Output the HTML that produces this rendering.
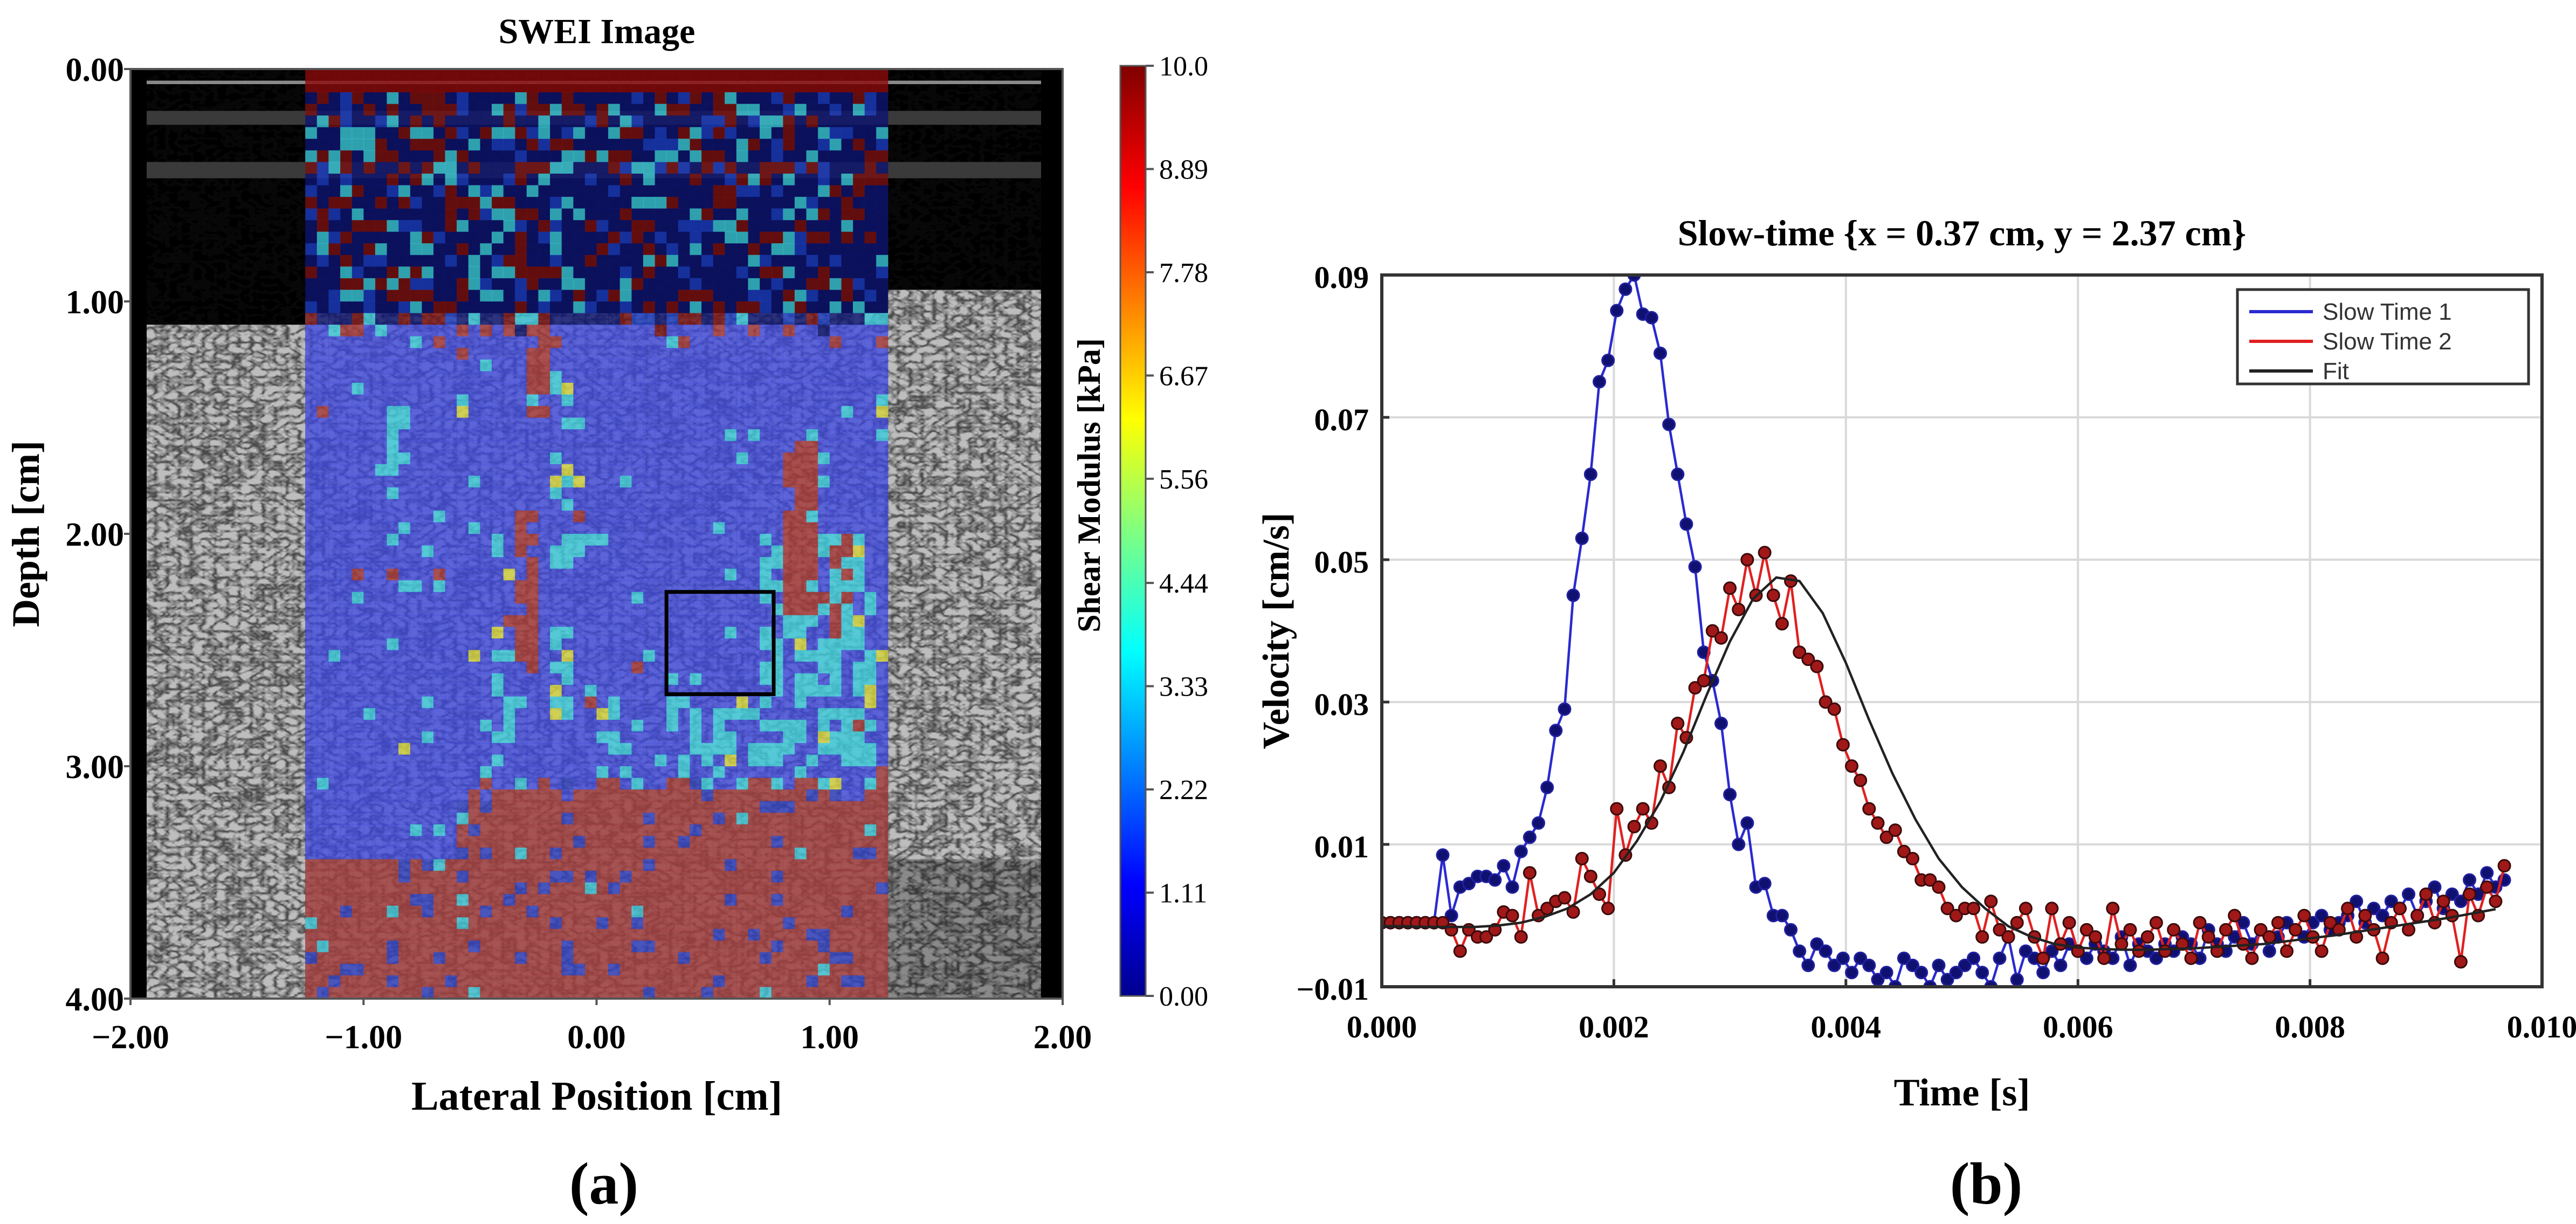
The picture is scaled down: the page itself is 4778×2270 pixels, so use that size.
<!DOCTYPE html>
<html><head><meta charset="utf-8">
<style>
html,body{margin:0;padding:0;background:#fff;}
svg{display:block;}
text{font-family:"Liberation Serif",serif;}
</style></head>
<body>
<svg id="fig" width="4778" height="2270" viewBox="0 0 4778 2270" xmlns="http://www.w3.org/2000/svg">
<defs>
<filter id="speckle" x="0" y="0" width="100%" height="100%">
<feTurbulence type="turbulence" baseFrequency="0.045 0.07" numOctaves="2" seed="7" result="t"/>
<feColorMatrix in="t" type="matrix" values="0 0 0 0 0  0 0 0 0 0  0 0 0 0 0  -2.2 -1.2 0 0 1.25" result="a"/>
<feFlood flood-color="#111"/>
<feComposite in2="a" operator="in"/>
</filter>
<linearGradient id="jet" x1="0" y1="1" x2="0" y2="0">
<stop offset="0" stop-color="#00008f"/>
<stop offset="0.12" stop-color="#0000ff"/>
<stop offset="0.37" stop-color="#00ffff"/>
<stop offset="0.5" stop-color="#80ff80"/>
<stop offset="0.62" stop-color="#ffff00"/>
<stop offset="0.87" stop-color="#ff0000"/>
<stop offset="1" stop-color="#800000"/>
</linearGradient>
<clipPath id="clipA"><rect x="242" y="128" width="1729" height="1724"/></clipPath>
<clipPath id="clipB"><rect x="2563" y="510" width="2152" height="1320"/></clipPath>
</defs>

<g id="panelA">
<text x="1107" y="80" font-size="66" font-weight="bold" text-anchor="middle">SWEI Image</text>
<g clip-path="url(#clipA)">
<rect x="242" y="128" width="1729" height="1724" fill="#000"/>
<g id="sideTex"></g>
<g id="cells"></g>
</g>
<rect id="roiBox" fill="none" stroke="#000" stroke-width="7"/>
<rect x="242" y="128" width="1729" height="1724" fill="none" stroke="#555" stroke-width="4"/>
<g id="axA"></g>
<text transform="translate(72,990) rotate(-90)" font-size="72" font-weight="bold" text-anchor="middle">Depth [cm]</text>
<text x="1107" y="2058" font-size="76" font-weight="bold" text-anchor="middle">Lateral Position [cm]</text>
<text x="1120" y="2232" font-size="110" font-weight="bold" text-anchor="middle">(a)</text>
<rect x="2078" y="122" width="47" height="1725" fill="url(#jet)" stroke="#555" stroke-width="3"/>
<g id="cbTicks"></g>
<text transform="translate(2040,900) rotate(-90)" font-size="60" font-weight="bold" text-anchor="middle">Shear Modulus [kPa]</text>
</g>

<g id="panelB">
<text x="3639" y="455" font-size="68" font-weight="bold" text-anchor="middle">Slow-time  {x = 0.37 cm, y = 2.37 cm}</text>
<g id="gridB"></g>
<g clip-path="url(#clipB)"><g id="seriesB"></g></g>
<rect x="2563" y="510" width="2152" height="1320" fill="none" stroke="#333" stroke-width="6"/>
<g id="axB"></g>
<text transform="translate(2390,1170) rotate(-90)" font-size="70" font-weight="bold" text-anchor="middle">Velocity  [cm/s]</text>
<text x="3639" y="2050" font-size="72" font-weight="bold" text-anchor="middle">Time  [s]</text>
<text x="3684" y="2232" font-size="110" font-weight="bold" text-anchor="middle">(b)</text>
<g>
<rect x="4150" y="537" width="540" height="175" fill="#fff" stroke="#333" stroke-width="5"/>
<line x1="4172" y1="578" x2="4290" y2="578" stroke="#2a2ad0" stroke-width="6"/>
<text x="4308" y="593" font-size="44" fill="#333" style="font-family:'Liberation Sans',sans-serif">Slow Time 1</text>
<line x1="4172" y1="633" x2="4290" y2="633" stroke="#e02020" stroke-width="6"/>
<text x="4308" y="648" font-size="44" fill="#333" style="font-family:'Liberation Sans',sans-serif">Slow Time 2</text>
<line x1="4172" y1="688" x2="4290" y2="688" stroke="#222" stroke-width="6"/>
<text x="4308" y="703" font-size="44" fill="#333" style="font-family:'Liberation Sans',sans-serif">Fit</text>
</g>
</g>
</svg>

<script>
const dt = 0.000075;
const blueVals = [-1,-1,-1,-1,-1,-1,-1,8.5,0,4,4.5,5.5,5.5,5,7,4,9,11,13,18,26,29,45,53,62,75,78,85,88,90,84.5,84,79,69,62,55,49,37,33,27,17,10,13,4,4.5,0,0,-2,-5,-7,-4,-5,
-7,-6,-8,-6,-7,-9,-8,-10,-6,-7,-8,-10,-7,-9,-8,-7,-6,-8,-10,
-6,-3,-9,-5,-6,-8,-5,-7,-4,-5,-6,-4,-5,-6,-3,-7,-4,-5,-6,-4,
-5,-3,-4,-6,-2,-4,-5,-3,-1,-4,-2,-5,-3,-1,-2,-3,-1,0,-2,-1,
0,2,-1,1,0,2,1,3,0,2,4,1,3,2,5,3,6,4,5];
const redVals = [-1,-1,-1,-1,-1,-1,-1,-1,-2,-5,-2,-3,-3,-2,0.5,0,-3,6,0,1,2,2.5,0.5,8,5.5,3,1,15,8.5,12.5,15,13,21,18,27,25,32,33,40,39,46,43,50,45,51,45,41,47,37,36,35,30,29,24,21,19,15,13,11,12,9,8,5,5,4,1,0,1,1,-3,2,-2,-3,-1,1,-3,-6,1,
-4,-1,-5,-2,-3,-6,1,-4,-2,-5,-3,-1,-5,-2,-4,-6,-1,-3,-5,-2,0,-4,-6,-2,-3,-1,-5,-2,0,-3,-5,-1,-2,1,-3,0,-2,-6,-1,1,-2,0,3,-1,2,0,-6.5,3,0,4,2,7];
const fitStep = 0.0002;
const fitVals = [-1.5,-1.5,-1.6,-1.6,-1.6,-1.4,-1.0,-0.2,1.0,3.0,6.0,10.5,16,23,31,38.5,44.5,47.5,47,42.5,35.5,27.5,20,13.5,8,4,1,-1.5,-3,-4,-4.5,-4.7,-4.8,-4.8,-4.7,-4.6,-4.4,-4.2,-4.0,-3.6,-3.2,-2.8,-2.3,-1.8,-1.3,-0.8,-0.3,0.3,0.9];
const xTicksB = [0,0.002,0.004,0.006,0.008,0.010];
const xTickLabelsB = ["0.000","0.002","0.004","0.006","0.008","0.010"];
const yTicksB = [0.09,0.07,0.05,0.03,0.01,-0.01];
const yTickLabelsB = ["0.09","0.07","0.05","0.03","0.01","\u22120.01"];

const latTicks = [-2,-1,0,1,2];
const latTickLabels = ["\u22122.00","\u22121.00","0.00","1.00","2.00"];
const depthTicks = [0,1,2,3,4];
const depthTickLabels = ["0.00","1.00","2.00","3.00","4.00"];
const cbTickVals = [0,1.11,2.22,3.33,4.44,5.56,6.67,7.78,8.89,10.0];
const cbTickLabels = ["0.00","1.11","2.22","3.33","4.44","5.56","6.67","7.78","8.89","10.0"];
const roi = [0.30, 2.25, 0.76, 2.69];

const NS="http://www.w3.org/2000/svg";
function mk(tag, attrs, parent){const e=document.createElementNS(NS,tag);for(const k in attrs)e.setAttribute(k,attrs[k]);parent.appendChild(e);return e;}

const AX0=242,AX1=1971,AY0=128,AY1=1852;
const lx=v=>AX0+(v+2)/4*(AX1-AX0);
const dy=v=>AY0+v/4*(AY1-AY0);
const CB0=1847,CB1=122;
const cby=v=>CB0+(v/10)*(CB1-CB0);

const axAG=document.getElementById('axA');
latTicks.forEach((v,i)=>{
  const x=lx(v);
  const tk=mk('line',{x1:x,y1:AY1,x2:x,y2:AY1+12,stroke:'#555','stroke-width':4},axAG);
  
  
  const t=mk('text',{x:x,y:AY1+92,'font-size':62,'font-weight':'bold','text-anchor':'middle'},axAG);
  t.textContent=latTickLabels[i];
  
  
});
depthTicks.forEach((v,i)=>{
  const y=dy(v);
  const tk=mk('line',{x1:AX0-12,y1:y,x2:AX0,y2:y,stroke:'#555','stroke-width':4},axAG);
  
  
  const t=mk('text',{x:AX0-12,y:y+22,'font-size':62,'font-weight':'bold','text-anchor':'end'},axAG);
  t.textContent=depthTickLabels[i];
  
  
});
const cbG=document.getElementById('cbTicks');
cbTickVals.forEach((v,i)=>{
  const y=cby(v);
  const tk=mk('line',{x1:2125,y1:y,x2:2140,y2:y,stroke:'#555','stroke-width':4},cbG);
  
  
  const t=mk('text',{x:2150,y:y+18,'font-size':52},cbG);
  t.textContent=cbTickLabels[i];
  
  
});
const rb=document.getElementById('roiBox');
rb.setAttribute('x',lx(roi[0]));rb.setAttribute('y',dy(roi[1]));
rb.setAttribute('width',lx(roi[2])-lx(roi[0]));rb.setAttribute('height',dy(roi[3])-dy(roi[1]));

const side=document.getElementById('sideTex');
mk('rect',{x:lx(-1.97),y:dy(1.1),width:lx(-1.25)-lx(-1.97),height:dy(4)-dy(1.1),fill:'#bdbdbd'},side);
mk('rect',{x:lx(1.25),y:dy(0.95),width:lx(1.97)-lx(1.25),height:dy(4)-dy(0.95),fill:'#bdbdbd'},side);
mk('rect',{x:lx(-1.25),y:dy(1.05),width:lx(1.25)-lx(-1.25),height:dy(4)-dy(1.05),fill:'#b0b0b0'},side);
mk('rect',{x:lx(1.25),y:dy(3.4),width:lx(1.97)-lx(1.25),height:dy(4)-dy(3.4),fill:'#8a8a8a'},side);
mk('rect',{x:AX0,y:AY0,width:AX1-AX0,height:AY1-AY0,fill:'#fff',filter:'url(#speckle)',opacity:0.65},side);
mk('rect',{x:AX0,y:AY0,width:30,height:AY1-AY0,fill:'#000'},side);
mk('rect',{x:AX1-40,y:AY0,width:40,height:AY1-AY0,fill:'#000'},side);
[[0.05,0.015,'#8a8a8a'],[0.18,0.06,'#3a3a3a'],[0.4,0.07,'#3a3a3a']].forEach(b=>{
  mk('rect',{x:AX0+30,y:dy(b[0]),width:AX1-AX0-70,height:dy(b[1])-dy(0),fill:b[2]},side);
});

let seed=12345;
function rnd(){seed|=0;seed=seed+0x6D2B79F5|0;let t=Math.imul(seed^seed>>>15,1|seed);t=t+Math.imul(t^t>>>7,61|t)^t;return((t^t>>>14)>>>0)/4294967296;}
function inR(x,d,a,b,c,e){return x>=a&&x<=b&&d>=c&&d<=e;}
function cellColor(x,d){
  const r=rnd();
  if(d<0.08) return '#8b0a0a';
  if(d<1.08+0.05*rnd()){
    if(r<0.5) return '#0c1470'; if(r<0.73) return '#7a1010'; if(r<0.86) return '#1a3cc0'; return '#39c8d8';
  }
  const b = x<-0.6 ? 3.38 : 3.02+0.12*rnd();
  if(d>b){
    if(r<0.1) return '#3040c0'; if(r<0.13) return '#40c8d8'; return '#a43c3c';
  }
  let pc=0.04, pr=0.01;
  if(inR(x,d,-0.92,-0.8,1.4,1.85)) pc=0.7;
  if(inR(x,d,-0.22,-0.1,1.2,3.0)) pc=0.45;
  if(inR(x,d,0.7,1.2,2.0,3.1)) pc=0.55;
  if(inR(x,d,0.0,0.7,2.7,3.2)) pc=0.35;
  if(inR(x,d,-0.45,-0.35,2.0,3.0)) pc=0.4;
  if(inR(x,d,0.8,0.97,1.6,2.35)) pr=0.75;
  if(inR(x,d,1.0,1.12,2.0,2.45)) pr=0.6;
  if(inR(x,d,-0.36,-0.27,1.9,2.6)) pr=0.6;
  if(inR(x,d,-0.3,-0.22,1.1,1.5)) pr=0.6;
  if(d<1.22) pr=Math.max(pr,0.2);
  if(r<pr) return '#a83838';
  if(r<pr+pc) return (rnd()<0.1?'#d8d840':'#40d0e0');
  return '#3c46e6';
}
const cellsG=document.getElementById('cells');
const cs=0.05;
for(let c=0;c<50;c++){
  for(let r=0;r<80;r++){
    const x=-1.25+c*cs, d=r*cs;
    const col=cellColor(x+cs/2,d+cs/2);
    const op = (d>=1.1 && col==='#3c46e6') ? 0.72 : 0.8;
    mk('rect',{x:lx(x),y:dy(d),width:lx(x+cs)-lx(x)+0.6,height:dy(d+cs)-dy(d)+0.6,fill:col,opacity:op},cellsG);
  }
}

const BX0=2563,BX1=4715,BY0=510,BY1=1830;
const tx=v=>BX0+v/0.010*(BX1-BX0);
const vy=v=>BY0+(0.09-v)/0.10*(BY1-BY0);

const gridB=document.getElementById('gridB');
xTicksB.forEach(v=>{ if(v>0&&v<0.010){
  const g=mk('line',{x1:tx(v),y1:BY0,x2:tx(v),y2:BY1,stroke:'#d9d9d9','stroke-width':4},gridB);
  
  
}});
yTicksB.forEach(v=>{ if(v<0.09&&v>-0.01){
  const g=mk('line',{x1:BX0,y1:vy(v),x2:BX1,y2:vy(v),stroke:'#d9d9d9','stroke-width':4},gridB);
  
  
}});
const axBG=document.getElementById('axB');
xTicksB.forEach((v,i)=>{
  const tk=mk('line',{x1:tx(v),y1:BY1,x2:tx(v),y2:BY1-14,stroke:'#333','stroke-width':5},axBG);
  
  
  const t=mk('text',{x:tx(v),y:BY1+94,'font-size':58,'font-weight':'bold','text-anchor':'middle'},axBG);
  t.textContent=xTickLabelsB[i];
  
  
});
yTicksB.forEach((v,i)=>{
  const tk=mk('line',{x1:BX0,y1:vy(v),x2:BX0+14,y2:vy(v),stroke:'#333','stroke-width':5},axBG);
  
  
  const t=mk('text',{x:BX0-24,y:vy(v)+24,'font-size':58,'font-weight':'bold','text-anchor':'end'},axBG);
  t.textContent=yTickLabelsB[i];
  
  
});

const ser=document.getElementById('seriesB');
function drawSeries(vals, lineCol, fill, stroke, name){
  const g=mk('g',{},ser);
  
  
  const pts=vals.map((v,i)=>tx(i*dt).toFixed(1)+','+vy(v/1000).toFixed(1)).join(' ');
  const pl=mk('polyline',{points:pts,fill:'none',stroke:lineCol,'stroke-width':4.5,'stroke-linejoin':'round'},g);
  
  
  vals.forEach((v,i)=>{
    const c=mk('circle',{cx:tx(i*dt),cy:vy(v/1000),r:11,fill:fill,stroke:stroke,'stroke-width':3},g);
    
    
  });
}
drawSeries(blueVals,'#2a2ad0','#101070','#2020a0','slow-time-1-series');
drawSeries(redVals,'#e02020','#a01818','#3a0a0a','slow-time-2-series');
const fitPts=fitVals.map((v,i)=>tx(i*fitStep).toFixed(1)+','+vy(v/1000).toFixed(1)).join(' ');
const fit=mk('polyline',{points:fitPts,fill:'none',stroke:'#222','stroke-width':4.5},ser);


</script>
</body></html>
